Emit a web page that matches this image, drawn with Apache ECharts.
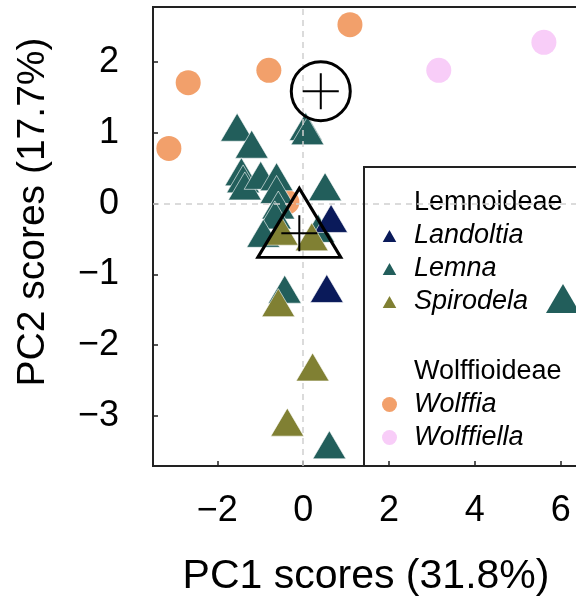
<!DOCTYPE html>
<html>
<head>
<meta charset="utf-8">
<script src="https://cdn.jsdelivr.net/npm/echarts@6/dist/echarts.min.js"></script>
<style>html,body{margin:0;padding:0;background:#fff}#c{width:576px;height:602px}</style>
</head>
<body>
<div id="c"></div>
<script>
// ---- data ----
const lemnaX = [-1.54, -1.20, 0.06, 0.10, -1.44, -1.40, -1.36, -0.99, -0.62, -0.62, 0.51, -0.58, -0.66, -0.93, 0.35, -0.43, 0.61];
const lemnaY = [1.08, 0.84, 1.09, 1.03, 0.45, 0.35, 0.25, 0.40, 0.38, 0.20, 0.24, -0.02, -0.16, -0.42, -0.35, -1.21, -3.41];
const landoltiaX = [0.65, 0.55];
const landoltiaY = [-0.21, -1.20];
const spirodelaX = [-0.50, 0.20, -0.58, 0.22, -0.37];
const spirodelaY = [-0.39, -0.47, -1.40, -2.31, -3.09];
const wolffiaX = [1.09, -0.80, -2.68, -3.13, -0.38];
const wolffiaY = [2.53, 1.885, 1.71, 0.78, 0.02];
const wolffiellaX = [3.16, 5.61];
const wolffiellaY = [1.885, 2.28];
const centroidNames = ['Wolffioideae', 'Lemnoideae'];
const centroidX = [0.41, -0.09];
const centroidY = [1.59, -0.42];
const xTicks = [-2, 0, 2, 4, 6];
const yTicks = [-3, -2, -1, 0, 1, 2];
const xTitle = 'PC1 scores (31.8%)';
const yTitle = 'PC2 scores (17.7%)';

const FONT = 'Liberation Sans, Arial, sans-serif';
const zip = (xs, ys) => xs.map((x, i) => [x, ys[i]]);
const minus = v => String(v).replace('-', '\u2212');

const chart = echarts.init(document.getElementById('c'), null, { renderer: 'canvas' });

const triSize = [33, 28];
const circSize = 25;

const option = {
  animation: false,
  backgroundColor: '#fff',
  grid: { left: 153, top: 7, right: -49, bottom: 136, show: true, borderColor: '#222', borderWidth: 2,
    containLabel: false, outerBoundsMode: 'none' },
  xAxis: {
    type: 'value', min: -3.5, max: 7.5,
    axisLine: { show: true, onZero: false, lineStyle: { color: '#222', width: 2 } },
    axisTick: { show: true, inside: true, length: 5, customValues: xTicks, lineStyle: { color: '#222', width: 1.5 } },
    axisLabel: { customValues: xTicks, formatter: minus, fontSize: 36, color: '#000', fontFamily: FONT, margin: 27 },
    splitLine: { show: false }
  },
  yAxis: {
    type: 'value', min: -3.71, max: 2.78,
    axisLine: { show: true, onZero: false, lineStyle: { color: '#222', width: 2 } },
    axisTick: { show: true, inside: true, length: 5, customValues: yTicks, lineStyle: { color: '#222', width: 1.5 } },
    axisLabel: { customValues: yTicks, formatter: minus, fontSize: 36, color: '#000', fontFamily: FONT, margin: 34 },
    splitLine: { show: false }
  },
  legend: {
    orient: 'vertical', left: 380, top: 189, padding: 0, itemGap: 6,
    itemWidth: 17, itemHeight: 15, selectedMode: false,
    textStyle: { fontSize: 27, fontStyle: 'italic', color: '#000', fontFamily: FONT, padding: [0, 0, 0, 11] },
    data: [
      { name: 'Lemnoideae', icon: 'none', textStyle: { fontStyle: 'normal' } },
      { name: 'Landoltia', icon: 'triangle' },
      { name: 'Lemna', icon: 'triangle' },
      { name: 'Spirodela', icon: 'triangle' },
      { name: ' ', icon: 'none', textStyle: { fontSize: 31 } },
      { name: 'Wolffioideae', icon: 'none', textStyle: { fontStyle: 'normal' } },
      { name: 'Wolffia', icon: 'circle' },
      { name: 'Wolffiella', icon: 'circle' }
    ]
  },
  graphic: [
    { type: 'rect', silent: true, z: 50, shape: { x: 364, y: 167, width: 300, height: 299 }, style: { fill: 'none', stroke: '#222', lineWidth: 2 } },
    { type: 'polygon', silent: true, z: 50, shape: { points: [[546, 313], [580, 313], [563, 284]] }, style: { fill: '#225E5B' } },
    { type: 'text', silent: true, x: 366, y: 577, style: { text: xTitle, fontSize: 41, fontFamily: FONT, fill: '#000', align: 'center', verticalAlign: 'middle' } },
    { type: 'text', silent: true, x: 33, y: 212, rotation: Math.PI / 2, style: { text: yTitle, fontSize: 39, fontFamily: FONT, fill: '#000', align: 'center', verticalAlign: 'middle' } }
  ],
  series: [
    {
      type: 'scatter', name: 'refLines', data: [], z: 1, silent: true,
      markLine: { silent: true, symbol: ['none', 'none'], label: { show: false },
        lineStyle: { color: '#d0d0d0', type: [6, 5], width: 1.5 },
        data: [{ xAxis: 0 }, { yAxis: 0 }] }
    },
    { type: 'scatter', name: 'Wolffia', data: zip(wolffiaX, wolffiaY), symbol: 'circle', symbolSize: circSize, z: 2,
      itemStyle: { color: '#F2A06B', borderWidth: 0, opacity: 1 } },
    { type: 'scatter', name: 'Wolffiella', data: zip(wolffiellaX, wolffiellaY), symbol: 'circle', symbolSize: circSize, z: 2,
      itemStyle: { color: '#F8CDF8', borderWidth: 0, opacity: 1 } },
    { type: 'scatter', name: 'Lemna', data: zip(lemnaX, lemnaY), symbol: 'triangle', symbolSize: triSize, z: 3,
      itemStyle: { color: '#225E5B', borderColor: '#fff', borderWidth: 0.6, opacity: 1 } },
    { type: 'scatter', name: 'Landoltia', data: zip(landoltiaX, landoltiaY), symbol: 'triangle', symbolSize: triSize, z: 4,
      itemStyle: { color: '#0A1A5A', borderColor: '#fff', borderWidth: 0.6, opacity: 1 } },
    { type: 'scatter', name: 'Spirodela', data: zip(spirodelaX, spirodelaY), symbol: 'triangle', symbolSize: triSize, z: 5,
      itemStyle: { color: '#808033', borderColor: '#fff', borderWidth: 0.6, opacity: 1 } },
    { type: 'scatter', name: 'Lemnoideae', data: [] },
    { type: 'scatter', name: ' ', data: [] },
    { type: 'scatter', name: 'Wolffioideae', data: [] },
    {
      type: 'scatter', name: 'centroidShape', z: 10, silent: true,
      data: [
        { value: [centroidX[0], centroidY[0]], symbol: 'circle', symbolSize: 59 },
        { value: [centroidX[1], centroidY[1]], symbol: 'triangle', symbolSize: [83, 69], symbolOffset: [0, -10.5] }
      ],
      itemStyle: { color: 'rgba(0,0,0,0)', borderColor: '#000', borderWidth: 3, opacity: 1 }
    },
    {
      type: 'scatter', name: 'centroidCross', z: 11, silent: true,
      data: zip(centroidX, centroidY),
      symbol: 'path://M10,0 L10,20 M0,10 L20,10', symbolSize: 36,
      itemStyle: { color: 'none', borderColor: '#000', borderWidth: 2, opacity: 1 }
    }
  ]
};
chart.setOption(option);
</script>
</body>
</html>
